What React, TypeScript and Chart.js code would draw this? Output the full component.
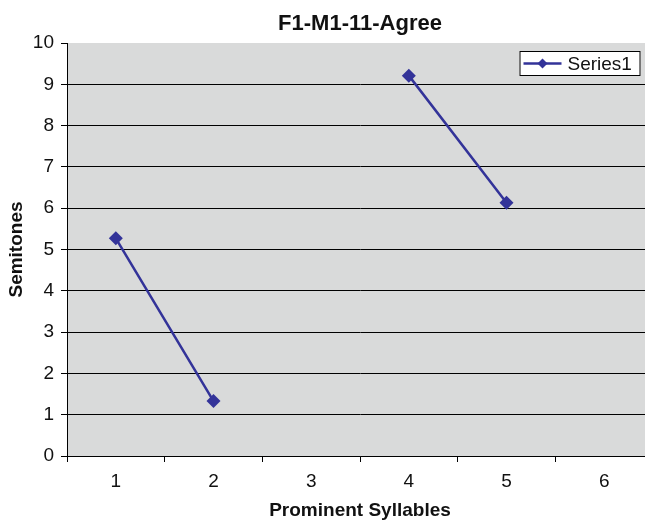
import { useEffect, useRef } from 'react';
import { Chart, registerables } from 'chart.js';

Chart.register(...registerables);

const categories = ['1', '2', '3', '4', '5', '6'];
const series1: (number | null)[] = [5.27, 1.33, null, 9.21, 6.13, null];
const seriesName = 'Series1';
const yMin = 0;
const yMax = 10;
const yStep = 1;
const chartTitle = 'F1-M1-11-Agree';
const xAxisTitle = 'Prominent Syllables';
const yAxisTitle = 'Semitones';

const FONT = '"Liberation Sans", Arial, Helvetica, sans-serif';
const LINE_COLOR = '#333399';
const PLOT_BG = '#d9dada';
const TEXT = '#111111';

// Gray plot background behind the grid
const plotBackground = {
  id: 'plotBackground',
  beforeDraw(chart: any) {
    const { ctx, chartArea } = chart;
    if (!chartArea) return;
    ctx.save();
    ctx.fillStyle = PLOT_BG;
    ctx.fillRect(chartArea.left, chartArea.top, chartArea.right - chartArea.left, chartArea.bottom - chartArea.top);
    ctx.restore();
  },
};

// Boxed legend in the top-right corner of the plot
const boxedLegend = {
  id: 'boxedLegend',
  afterDraw(chart: any) {
    const { ctx, chartArea } = chart;
    const ds = chart.data.datasets[0];
    const boxW = 121;
    const boxH = 25;
    const right = chartArea.right - 12.5;
    const left = right - boxW;
    const top = chartArea.top + 8;
    const midY = top + boxH / 2;
    ctx.save();
    ctx.fillStyle = '#ffffff';
    ctx.fillRect(left, top, boxW, boxH);
    ctx.strokeStyle = '#000000';
    ctx.lineWidth = 1;
    ctx.strokeRect(left + 0.5, top + 0.5, boxW - 1, boxH - 1);
    // sample line
    ctx.strokeStyle = ds.borderColor;
    ctx.lineWidth = 2.5;
    ctx.beginPath();
    ctx.moveTo(left + 4, midY);
    ctx.lineTo(left + 42, midY);
    ctx.stroke();
    // sample diamond
    const cx = left + 23;
    const r = 5;
    ctx.fillStyle = ds.backgroundColor;
    ctx.beginPath();
    ctx.moveTo(cx, midY - r);
    ctx.lineTo(cx + r, midY);
    ctx.lineTo(cx, midY + r);
    ctx.lineTo(cx - r, midY);
    ctx.closePath();
    ctx.fill();
    // label
    ctx.fillStyle = TEXT;
    ctx.font = `19px ${FONT}`;
    ctx.textBaseline = 'middle';
    ctx.textAlign = 'left';
    ctx.fillText(ds.label, left + 48, midY + 1);
    ctx.restore();
  },
};

export default function App() {
  const canvasRef = useRef<HTMLCanvasElement | null>(null);

  useEffect(() => {
    const canvas = canvasRef.current;
    if (!canvas) return;
    const chart = new Chart(canvas, {
      type: 'line',
      data: {
        labels: categories,
        datasets: [
          {
            label: seriesName,
            data: series1,
            borderColor: LINE_COLOR,
            backgroundColor: LINE_COLOR,
            borderWidth: 2.5,
            pointStyle: 'rectRot',
            pointRadius: 7,
            pointBorderWidth: 0,
            spanGaps: false,
            tension: 0,
          },
        ],
      },
      options: {
        animation: false,
        responsive: false,
        devicePixelRatio: 1,
        layout: { padding: { left: 0, right: 7, top: 0, bottom: 0 } },
        plugins: {
          legend: { display: false },
          tooltip: { enabled: false },
          title: {
            display: true,
            text: chartTitle,
            fullSize: false,
            color: TEXT,
            font: { family: FONT, size: 22, weight: 'bold' },
            padding: { top: 11, bottom: 5.6 },
          },
        },
        scales: {
          x: {
            type: 'category',
            offset: true,
            grid: {
              offset: true,
              drawOnChartArea: false,
              tickLength: 6,
              color: '#000000',
              tickColor: '#000000',
              lineWidth: 1,
            },
            border: { color: '#000000', width: 1 },
            ticks: {
              color: TEXT,
              font: { family: FONT, size: 19 },
              padding: 8,
              maxRotation: 0,
            },
            title: {
              display: true,
              text: xAxisTitle,
              color: TEXT,
              font: { family: FONT, size: 19, weight: 'bold' },
              padding: { top: 4, bottom: -2 },
            },
            afterFit: (scale: any) => {
              scale.height = 64;
            },
          },
          y: {
            min: yMin,
            max: yMax,
            ticks: {
              stepSize: yStep,
              color: TEXT,
              font: { family: FONT, size: 19 },
              padding: 7,
            },
            grid: {
              tickLength: 6,
              color: (ctx: any) => (ctx.tick && ctx.tick.value === yMax ? 'rgba(0,0,0,0)' : '#000000'),
              tickColor: '#000000',
              lineWidth: 1,
            },
            border: { color: '#000000', width: 1 },
            title: {
              display: true,
              text: yAxisTitle,
              color: TEXT,
              font: { family: FONT, size: 19, weight: 'bold' },
              padding: { top: 5, bottom: 0 },
            },
            afterFit: (scale: any) => {
              scale.width = 67;
            },
          },
        },
      },
      plugins: [plotBackground, boxedLegend],
    });
    return () => chart.destroy();
  }, []);

  return (
    <div
      style={{
        position: 'absolute',
        left: 0,
        top: 0,
        width: 645,
        height: 520,
        overflow: 'hidden',
        background: '#ffffff',
      }}
    >
      <canvas ref={canvasRef} width={660} height={520} style={{ display: 'block' }} />
    </div>
  );
}
